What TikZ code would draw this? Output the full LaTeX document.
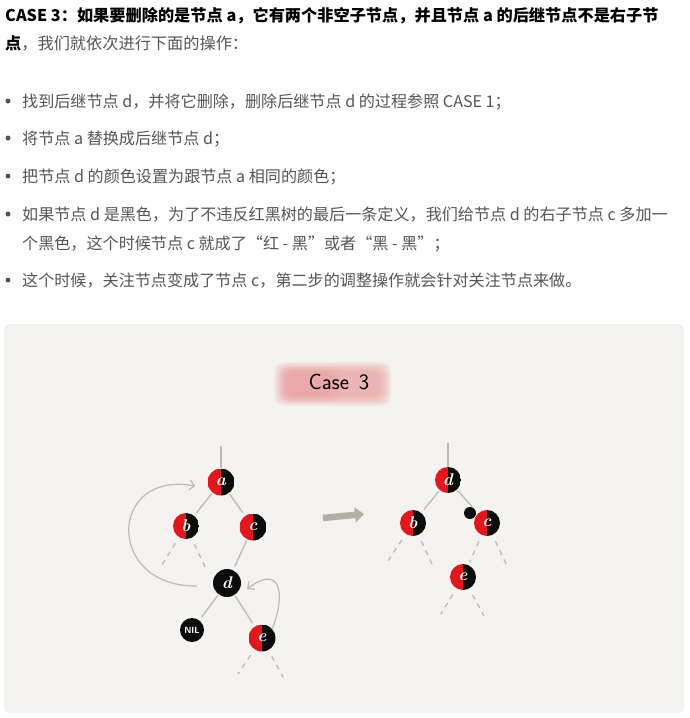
\documentclass[tikz,border=0pt]{standalone}
\usepackage{fontspec}
\newfontfamily\cjk{Noto Sans CJK SC}
\usetikzlibrary{arrows.meta}
\definecolor{panelbg}{HTML}{F4F3EF}
\definecolor{nred}{HTML}{E2161C}
\definecolor{nblack}{HTML}{0C0C0C}
\definecolor{lgray}{HTML}{BDBAB2}
\definecolor{agray}{HTML}{B3AFA6}
\definecolor{gtext}{HTML}{555555}
\definecolor{pinkc}{HTML}{EA8C91}
\tikzset{
  head/.style={anchor=base west, inner sep=0pt, font=\cjk\fontsize{16.2}{18}\selectfont\bfseries, text=black},
  btext/.style={anchor=base west, inner sep=0pt, font=\cjk\fontsize{16.1}{18}\selectfont, text=gtext},
  bdot/.style={circle, fill=gtext, minimum size=5pt, inner sep=0pt},
  rbnode/.style={circle, minimum size=27pt, inner sep=0pt, text=white,
    font=\bfseries\itshape\fontsize{17}{17}\selectfont,
    path picture={\fill[nred] (path picture bounding box.south west) rectangle (path picture bounding box.north);
                  \fill[nblack] (path picture bounding box.south) rectangle (path picture bounding box.north east);}},
  bknode/.style={circle, fill=nblack, minimum size=28pt, inner sep=0pt, text=white, font=\bfseries\itshape\fontsize{17}{17}\selectfont},
  nilnode/.style={circle, fill=nblack, minimum size=24pt, inner sep=0pt, text=white, font=\sffamily\bfseries\fontsize{9}{9}\selectfont},
  bdotnode/.style={circle, fill=nblack, minimum size=12pt, inner sep=0pt},
  edge/.style={draw=lgray, line width=1.3pt, shorten <=1pt, shorten >=4pt},
  dashedge/.style={draw=lgray, line width=1.3pt, dash pattern=on 5pt off 5pt, shorten <=7pt},
  curvearrow/.style={draw=lgray, line width=1.2pt, -{Straight Barb[length=5pt,width=10pt]}},
}
\begin{document}
\begin{tikzpicture}[x=1pt,y=-1pt]
\useasboundingbox (0,0) rectangle (690,718);
\fill[white] (0,0) rectangle (690,718);
% text
\node[head] (t1) at (5,21) {CASE 3：如果要删除的是节点 a，它有两个非空子节点，并且节点 a 的后继节点不是右子节};
\node[head] (t2) at (5,49) {点{\mdseries\color{gtext}，我们就依次进行下面的操作：}};
\node[bdot] (d1) at (8,101) {};
\node[btext] (b1) at (22,107) {找到后继节点 d，并将它删除，删除后继节点 d 的过程参照 CASE 1；};
\node[bdot] (d2) at (8,138) {};
\node[btext] (b2) at (22,144) {将节点 a 替换成后继节点 d；};
\node[bdot] (d3) at (8,176) {};
\node[btext] (b3) at (22,182) {把节点 d 的颜色设置为跟节点 a 相同的颜色；};
\node[bdot] (d4) at (8,214) {};
\node[btext] (b4) at (22,220) {如果节点 d 是黑色，为了不违反红黑树的最后一条定义，我们给节点 d 的右子节点 c 多加一};
\node[btext] (b4b) at (22,249) {个黑色，这个时候节点 c 就成了“红 - 黑”或者“黑 - 黑”；};
\node[bdot] (d5) at (8,280) {};
\node[btext] (b5) at (22,286) {这个时候，关注节点变成了节点 c，第二步的调整操作就会针对关注节点来做。};
% panel
\fill[panelbg, rounded corners=5pt] (4,324) rectangle (684,713);
% Case 3 label
\foreach \k in {0,...,7}
  \fill[pinkc, opacity=0.1, rounded corners=10pt] (274+\k*1.5, 362+\k*1.3) rectangle (391-\k*1.5, 406-\k*1.3);
\foreach \k in {0,...,3}
  \fill[pinkc, opacity=0.08, rounded corners=9pt] (280+\k*2, 367+\k*2) rectangle (340-\k*2, 401-\k*2);
\node[inner sep=0pt, font=\sffamily\fontsize{22}{22}\selectfont] (case) at (339,382) {Case\hspace{10pt}3};
% left tree
\coordinate (atop) at (221,446);
\node[rbnode] (a) at (221,482) {a};
\node[rbnode, minimum size=26pt] (b) at (186,526) {b};
\node[rbnode] (c) at (253,527) {c};
\node[bknode] (d) at (227,583) {d};
\node[nilnode] (nil) at (192,630) {NIL};
\node[rbnode] (e) at (262,638) {e};
\draw[draw=lgray, line width=1.3pt] (atop) -- (a);
\draw[edge] (a) -- (b);
\draw[edge] (a) -- (c);
\draw[edge] (c) -- (d);
\draw[edge] (d) -- (nil);
\draw[edge] (d) -- (e);
\coordinate (bl) at (162,565);
\coordinate (br) at (206,569);
\coordinate (el) at (238,674);
\coordinate (er) at (283,677);
\draw[dashedge] (b) -- (bl);
\draw[dashedge] (b) -- (br);
\draw[dashedge] (e) -- (el);
\draw[dashedge] (e) -- (er);
\draw[curvearrow] ([xshift=-16pt,yshift=-3pt]d.west) .. controls (105,587) and (108,470) .. ([xshift=-12pt,yshift=-4pt]a.west);
\draw[curvearrow] ([xshift=10pt,yshift=-5pt]e.north) .. controls (286,595) and (281,563) .. ([xshift=6pt,yshift=-6pt]d.east);
% arrow
\coordinate (mfrom) at (323,518);
\coordinate (mto) at (364,514);
\draw[agray, line width=6.5pt, -{Triangle[length=9pt,width=15pt]}] (mfrom) -- (mto);
% right tree
\coordinate (dtop) at (448,443);
\node[rbnode, minimum size=26pt] (d2) at (448,480) {d};
\node[rbnode, minimum size=26pt] (b2) at (413,523) {b};
\node[rbnode, minimum size=26pt] (c2) at (487,523) {c};
\node[rbnode, minimum size=26pt] (e2) at (463,577) {e};
\node[bdotnode] (xb) at (470,513) {};
\draw[draw=lgray, line width=1.3pt] (dtop) -- (d2);
\draw[edge] (d2) -- (b2);
\draw[edge, shorten >=8pt] (d2) -- (c2);
\coordinate (b2l) at (388,561);
\coordinate (b2r) at (432,564);
\coordinate (c2r) at (507,566);
\coordinate (e2l) at (441,614);
\coordinate (e2r) at (484,616);
\draw[dashedge] (b2) -- (b2l);
\draw[dashedge] (b2) -- (b2r);
\draw[dashedge, shorten >=3pt] (c2) -- (e2);
\draw[dashedge] (c2) -- (c2r);
\draw[dashedge] (e2) -- (e2l);
\draw[dashedge] (e2) -- (e2r);
\end{tikzpicture}
\end{document}
